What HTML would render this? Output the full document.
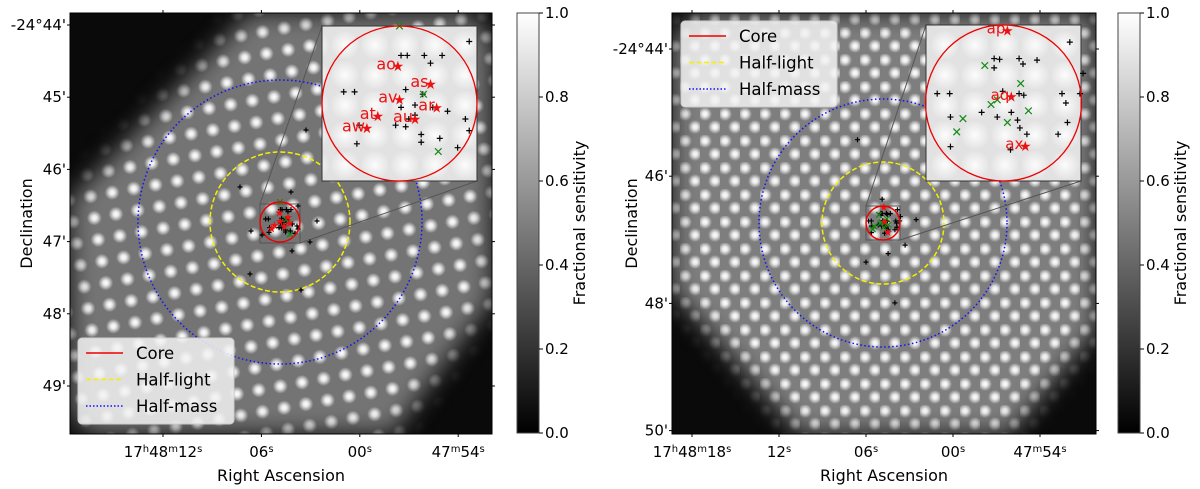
<!DOCTYPE html>
<html><head><meta charset="utf-8">
<style>
html,body{margin:0;padding:0;background:#fff;}
svg{display:block;font-family:"DejaVu Sans","Liberation Sans",sans-serif;}
</style></head>
<body>
<svg id="fig" width="1200" height="489" viewBox="0 0 1200 489" xmlns="http://www.w3.org/2000/svg">
<defs>
  <radialGradient id="dot"><stop offset="0" stop-color="#fff" stop-opacity="1"/><stop offset="0.35" stop-color="#fff" stop-opacity="0.85"/><stop offset="1" stop-color="#fff" stop-opacity="0"/></radialGradient>
  <radialGradient id="dotSoft"><stop offset="0" stop-color="#fff" stop-opacity="0.9"/><stop offset="1" stop-color="#fff" stop-opacity="0"/></radialGradient>
  <pattern id="patL" width="22" height="22" patternUnits="userSpaceOnUse" patternTransform="rotate(-10)">
    <rect width="22" height="22" fill="#747474"/>
    <circle cx="11" cy="11" r="7.5" fill="url(#dot)"/>
  </pattern>
  <pattern id="patR" width="20" height="27" patternUnits="userSpaceOnUse">
    <rect width="20" height="27" fill="#7e7e7e"/>
    <circle cx="5" cy="6" r="7" fill="url(#dot)"/><circle cx="15" cy="19" r="7" fill="url(#dot)"/>
  </pattern>
  <pattern id="patIn" width="30" height="30" patternUnits="userSpaceOnUse">
    <rect width="30" height="30" fill="#e2e2e2"/>
    <circle cx="15" cy="15" r="15" fill="url(#dotSoft)"/>
  </pattern>
  <filter id="soft" x="-10%" y="-10%" width="120%" height="120%"><feGaussianBlur stdDeviation="12"/></filter>
  <clipPath id="clipL"><rect x="70" y="13" width="422" height="421"/></clipPath>
  <clipPath id="clipR"><rect x="672" y="13" width="424" height="421"/></clipPath>
  <mask id="maskL"><rect x="0" y="0" width="1200" height="489" fill="#000"/><polygon points="70,200 250,13 470,13 492,40 492,300 393,434 90,434 70,410" fill="#fff" filter="url(#soft)"/></mask>
  <mask id="maskR"><rect x="0" y="0" width="1200" height="489" fill="#000"/><polygon points="672,40 700,13 1096,13 1096,330 1010,434 800,434 672,290" fill="#fff" filter="url(#soft)"/></mask>
  <linearGradient id="cbar" x1="0" y1="1" x2="0" y2="0"><stop offset="0" stop-color="#000"/><stop offset="1" stop-color="#fff"/></linearGradient>
</defs>
<g id="layer"></g>
</svg>
<script>
// ---- data (arcmin offsets relative to core centre; RA arcsec offsets) ----
const leftYTicks = ["-24°44'","45'","46'","47'","48'","49'"];
const leftYVals = [44,45,46,47,48,49];
const leftXTicks = ["12","06","00","54"];
const leftXVals = [12,6,0,-6];
const rightYTicks = ["-24°44'","46'","48'","50'"];
const rightYVals = [44,46,48,50];
const rightXVals = [18,12,6,0,-6];
const cbarTicks = [0,0.2,0.4,0.6,0.8,1.0];
// inset markers (normalised coords within core radius, -1..1)
const leftPlusX = [0.02,0.1,0.32,0.4,0.55,0.9,-0.72,-0.58,0.08,0.3,0.02,0.2,0.43,0.62,0.85,0.52,0.75,0.9,-0.55,0.28,0.28,-0.52,0.08,0.12,0.2,-0.05];
const leftPlusY = [-0.62,-0.62,-0.62,-0.52,-0.62,-0.8,-0.15,-0.15,-0.18,-0.12,0.05,0.02,0.05,0.1,0.2,0.45,0.57,0.35,0.52,0.5,0.4,0.28,0.3,0.2,0.15,0.28];
const leftStarX = [-0.02,0.4,0.0,0.48,-0.28,0.2,-0.42];
const leftStarY = [-0.48,-0.25,-0.05,0.05,0.16,0.2,0.32];
const leftStarLab = ["ao","as","av","ar","at","au","aw"];
const leftCrossX = [0.0,0.31,0.5];
const leftCrossY = [-1.0,-0.12,0.62];
const rightPlusX = [-0.12,-0.05,0.2,0.25,0.43,0.85,-0.85,-0.69,-0.12,-0.01,0.2,0.26,0.75,0.98,-0.08,-0.28,0.1,-0.68,0.18,0.82,0.3,0.7,0.21,-0.68,0.09,0.8,1.02];
const rightPlusY = [-0.57,-0.56,-0.57,-0.5,-0.55,-0.78,-0.12,-0.12,-0.45,-0.15,-0.12,-0.1,-0.12,-0.12,0.18,0.12,0.12,0.18,0.22,0.25,0.4,0.4,0.32,0.56,0.6,0.0,-0.38];
const rightStarX = [0.05,0.1,0.28];
const rightStarY = [-0.93,-0.08,0.55];
const rightStarLab = ["ap","aq","ax"];
const rightCrossX = [-0.24,0.22,-0.08,-0.16,0.05,-0.52,-0.6,0.32];
const rightCrossY = [-0.48,-0.25,-0.04,0.02,0.25,0.2,0.37,0.1];

const NS="http://www.w3.org/2000/svg";
const root=document.getElementById('layer');
function el(tag,attrs,parent,text){const e=document.createElementNS(NS,tag);for(const k in attrs)e.setAttribute(k,attrs[k]);if(text!==undefined)e.textContent=text;(parent||root).appendChild(e);return e;}

function panel(p){
  const g=el('g',{});
  
  
  const bg=el('g',{'clip-path':p.clip},g);
  el('rect',{x:p.x0,y:p.y0,width:p.w,height:p.h,fill:'#0a0a0a'},bg);
  el('rect',{x:p.x0,y:p.y0,width:p.w,height:p.h,fill:p.pat,mask:p.mask},bg);
  const yScale=v=>p.yA+(v-p.yV0)*p.yK;
  const xScale=v=>p.xA+(p.xV0-v)*p.xK;
  const c1=el('circle',{cx:p.cx,cy:p.cy,r:p.rHM,fill:'none',stroke:'#1010ff','stroke-width':1.5,'stroke-dasharray':'1.5 2.5'},g);
  
  
  const c2=el('circle',{cx:p.cx,cy:p.cy,r:p.rHL,fill:'none',stroke:'#f5f000','stroke-width':1.5,'stroke-dasharray':'5 2.5'},g);
  
  
  const drawMarkers=(cx,cy,r,size,labels,fs,starFs)=>{
    p.plusX.forEach((v,i)=>{const x=cx+v*r,y=cy+p.plusY[i]*r;const m=el('path',{d:`M${x-size} ${y}H${x+size}M${x} ${y-size}V${y+size}`,stroke:'#000','stroke-width':1.2},g);});
    p.crossX.forEach((v,i)=>{const x=cx+v*r,y=cy+p.crossY[i]*r,s=size*1.1;const m=el('path',{d:`M${x-s} ${y-s}L${x+s} ${y+s}M${x-s} ${y+s}L${x+s} ${y-s}`,stroke:'#118811','stroke-width':1.2},g);});
    p.starX.forEach((v,i)=>{const x=cx+v*r,y=cy+p.starY[i]*r;const st=el('text',{x:x,y:y+starFs*0.35,'font-size':starFs,fill:'#ee1111','text-anchor':'middle'},g,'★');
      if(labels){const t=el('text',{x:x-2,y:y+3,'font-size':fs,fill:'#ee1111','text-anchor':'end'},g,p.starLab[i]);}});
  };
  const b=p.box,ib=p.inset;
  el('line',{x1:b[0],y1:b[1],x2:ib[0],y2:ib[1],stroke:'#555','stroke-width':1},g);
  el('line',{x1:b[2],y1:b[3],x2:ib[2],y2:ib[3],stroke:'#555','stroke-width':1},g);
  const zb=el('rect',{x:b[0],y:b[1],width:b[2]-b[0],height:b[3]-b[1],fill:'none',stroke:'#555','stroke-width':1},g);
  
  
  drawMarkers(p.cx,p.cy,p.rC,2.5,false,0,11);
  el('circle',{cx:p.cx,cy:p.cy,r:p.rC,fill:'none',stroke:'#e00','stroke-width':1.5},g);
  p.extraX.forEach((v,i)=>{const x=p.cx+v*p.rC,y=p.cy+p.extraY[i]*p.rC;const m=el('path',{d:`M${x-2.5} ${y}H${x+2.5}M${x} ${y-2.5}V${y+2.5}`,stroke:'#000','stroke-width':1.2},g);});
  const ins=el('g',{},g);
  
  
  el('rect',{x:ib[0],y:ib[1],width:ib[2]-ib[0],height:ib[3]-ib[1],fill:'url(#patIn)',stroke:'#333','stroke-width':1},ins);
  const icx=(ib[0]+ib[2])/2,icy=(ib[1]+ib[3])/2,ir=(ib[3]-ib[1])/2;
  drawMarkers(icx,icy,ir,3,true,p.labFs,14);
  el('circle',{cx:icx,cy:icy,r:ir,fill:'none',stroke:'#e00','stroke-width':1.3},g);
  el('rect',{x:p.x0,y:p.y0,width:p.w,height:p.h,fill:'none',stroke:'#000','stroke-width':1},g);
  p.yVals.forEach((v,i)=>{const y=yScale(v);
    el('line',{x1:p.x0-3,y1:y,x2:p.x0,y2:y,stroke:'#000'},g);el('line',{x1:p.x0+p.w,y1:y,x2:p.x0+p.w+3,y2:y,stroke:'#000'},g);
    const t=el('text',{x:p.x0-4,y:y+5,'font-size':15,'text-anchor':'end'},g,p.yTicks[i]);});
  p.xVals.forEach((v,i)=>{const x=xScale(v);
    el('line',{x1:x,y1:p.y0+p.h,x2:x,y2:p.y0+p.h+3,stroke:'#000'},g);el('line',{x1:x,y1:p.y0-3,x2:x,y2:p.y0,stroke:'#000'},g);
    const t=el('text',{x:x,y:457,'font-size':15,'text-anchor':'middle'},g);
    t.innerHTML=p.xLab[i];});
  const xt=el('text',{x:p.x0+p.w/2,y:481,'font-size':16,'text-anchor':'middle'},g,'Right Ascension');
  
  const yt=el('text',{x:0,y:0,'font-size':16,'text-anchor':'middle',transform:`translate(${p.decX},${p.y0+p.h/2}) rotate(-90)`},g,'Declination');
  
  const L=p.leg;const lg=el('g',{},g);
  
  el('rect',{x:L[0],y:L[1],width:156,height:86,rx:4,fill:'#f2f2f2','fill-opacity':0.85,stroke:'#ccc'},lg);
  const items=[['Core','#e00',''],['Half-light','#f5f000','5 2.5'],['Half-mass','#1010ff','1.5 2']];
  items.forEach((it,i)=>{const y=L[1]+15+i*26.5;
    el('line',{x1:L[0]+8,y1:y,x2:L[0]+45,y2:y,stroke:it[1],'stroke-width':1.5,'stroke-dasharray':it[2]},lg);
    const t=el('text',{x:L[0]+58,y:y+6,'font-size':16.5},lg,it[0]);});
  const cb=el('g',{},g);
  el('rect',{x:p.cbx,y:13,width:22,height:420,fill:'url(#cbar)',stroke:'#444'},cb);
  cbarTicks.forEach(v=>{const y=433-v*420;el('line',{x1:p.cbx+22,y1:y,x2:p.cbx+26,y2:y,stroke:'#000'},cb);
    const t=el('text',{x:p.cbx+28,y:y+5,'font-size':15},cb,v.toFixed(1));});
  const ct=el('text',{x:0,y:0,'font-size':16,'text-anchor':'middle',transform:`translate(${p.cbx+68},223) rotate(-90)`},cb,'Fractional sensitivity');
  
}
const sup=s=>`<tspan baseline-shift="super" font-size="10">${s}</tspan>`;
panel({name:'left-panel',x0:70,y0:13,w:422,h:421,clip:'url(#clipL)',mask:'url(#maskL)',pat:'url(#patL)',
  yVals:leftYVals,yTicks:leftYTicks,yA:25,yV0:44,yK:72.2,
  xVals:leftXVals,xA:163,xV0:12,xK:16.4,
  xLab:['17'+sup('h')+'48'+sup('m')+'12'+sup('s'),'06'+sup('s'),'00'+sup('s'),'47'+sup('m')+'54'+sup('s')],
  cx:280,cy:222,rHM:142,rHL:70,rC:20,box:[260,204,300,243],inset:[322,26,477,181],labFs:16,
  plusX:leftPlusX,plusY:leftPlusY,starX:leftStarX,starY:leftStarY,starLab:leftStarLab,crossX:leftCrossX,crossY:leftCrossY,
  extraX:[-2.0,-1.45,-0.9,0.6,1.5,1.85,0.55,-1.5,1.05,1.3],extraY:[-1.75,0.45,0.65,1.45,1.0,-0.05,-1.5,2.6,3.4,-4.6],
  leg:[78,338],cbx:517,decX:32});
panel({name:'right-panel',x0:672,y0:13,w:424,h:421,clip:'url(#clipR)',mask:'url(#maskR)',pat:'url(#patR)',
  yVals:rightYVals,yTicks:rightYTicks,yA:49,yV0:44,yK:63.6,
  xVals:rightXVals,xA:692,xV0:18,xK:14.5,
  xLab:['17'+sup('h')+'48'+sup('m')+'18'+sup('s'),'12'+sup('s'),'06'+sup('s'),'00'+sup('s'),'47'+sup('m')+'54'+sup('s')],
  cx:883,cy:223,rHM:124,rHL:61,rC:17,box:[866,206,900,240],inset:[926,25,1081,181],labFs:15,
  plusX:rightPlusX,plusY:rightPlusY,starX:rightStarX,starY:rightStarY,starLab:rightStarLab,crossX:rightCrossX,crossY:rightCrossY,
  extraX:[-1.5,0.3,1.3,1.95,-1.0,-0.05,0.7],extraY:[-4.9,1.8,1.3,-0.2,2.3,-1.4,4.7],
  leg:[681,21],cbx:1118,decX:637});
</script>
</body></html>
